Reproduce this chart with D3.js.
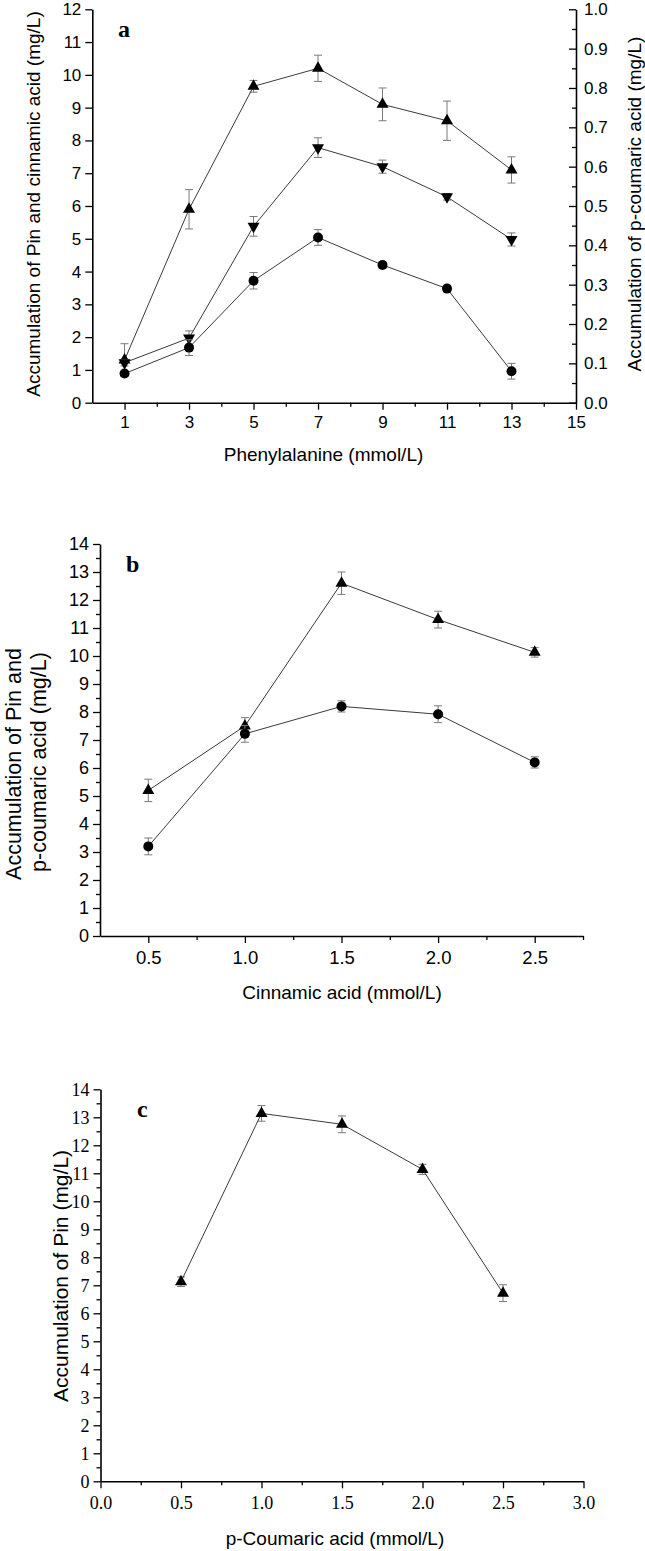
<!DOCTYPE html>
<html><head><meta charset="utf-8">
<script src="https://cdn.jsdelivr.net/npm/d3@7"></script>
<style>
html,body{margin:0;padding:0;background:#fff;}
svg{display:block;}
text{fill:#000;}
</style></head>
<body>
<script>
// ---------- Panel a data ----------
const pheConc = [1, 3, 5, 7, 9, 11, 13];
const aPin = [1.3, 5.9, 9.65, 10.2, 9.1, 8.6, 7.1];
const aPinErr = [0.5, 0.6, 0.18, 0.4, 0.5, 0.6, 0.4];
const aCinnamic = [1.22, 1.97, 5.38, 7.78, 7.2, 6.28, 4.98];
const aCinnamicErr = [0.1, 0.22, 0.3, 0.3, 0.2, 0.1, 0.2];
const aCoumaric = [0.074, 0.14, 0.31, 0.42, 0.35, 0.29, 0.08];   // right axis
const aCoumaricErr = [0.005, 0.02, 0.021, 0.02, 0.008, 0.008, 0.02];
const aXTicks = [1, 3, 5, 7, 9, 11, 13, 15];
const aYTicks = [0,1,2,3,4,5,6,7,8,9,10,11,12];
const aY2Ticks = [0,0.1,0.2,0.3,0.4,0.5,0.6,0.7,0.8,0.9,1.0];

// ---------- Panel b data ----------
const cinnConc = [0.5, 1.0, 1.5, 2.0, 2.5];
const bPin = [5.2, 7.5, 12.6, 11.3, 10.13];
const bPinErr = [0.4, 0.3, 0.4, 0.3, 0.17];
const bCoumaric = [3.2, 7.22, 8.2, 7.92, 6.2];
const bCoumaricErr = [0.3, 0.3, 0.2, 0.3, 0.2];
const bXTicks = [0.5, 1.0, 1.5, 2.0, 2.5];
const bYTicks = [0,1,2,3,4,5,6,7,8,9,10,11,12,13,14];

// ---------- Panel c data ----------
const coumConc = [0.5, 1.0, 1.5, 2.0, 2.5];
const cPin = [7.13, 13.14, 12.75, 11.14, 6.72];
const cPinErr = [0.17, 0.28, 0.3, 0.18, 0.3];
const cXTicks = [0.0, 0.5, 1.0, 1.5, 2.0, 2.5, 3.0];
const cYTicks = [0,1,2,3,4,5,6,7,8,9,10,11,12,13,14];

const W = 645, H = 1551;
const SANS = "'Liberation Sans', Arial, sans-serif";
const SERIF = "'Liberation Serif', 'Times New Roman', serif";
const LINE = "#3a3a3a", ERR = "#7a7a7a";

const svg = d3.select("body").append("svg").attr("width", W).attr("height", H);

function styleAxis(g, font, size) {
  g.select(".domain").attr("stroke", "#000").attr("stroke-width", 1.6);
  g.selectAll(".tick line").attr("stroke", "#000").attr("stroke-width", 1.3);
  g.selectAll(".tick text").attr("font-family", font).attr("font-size", size).attr("fill", "#000");
}
function minorStyle(a) {
  a.select(".domain").remove();
  a.selectAll("line").attr("stroke", "#000").attr("stroke-width", 1.3);
}

function triPath(up, s, h) {
  const p = d3.path();
  const sg = up ? 1 : -1;
  p.moveTo(0, -sg * h * 2 / 3);
  p.lineTo(s, sg * h / 3);
  p.lineTo(-s, sg * h / 3);
  p.closePath();
  return p.toString();
}

function series(g, xs, ys, errs, x, y, shape) {
  const pts = xs.map((v, i) => ({x: v, y: ys[i], e: errs[i]}));
  const eg = g.append("g");
  pts.forEach(d => {
    const cx = x(d.x), top = y(d.y + d.e), bot = y(d.y - d.e);
    eg.append("line").attr("x1", cx).attr("x2", cx).attr("y1", top).attr("y2", bot)
      .attr("stroke", ERR).attr("stroke-width", 1);
    [top, bot].forEach(yy => eg.append("line").attr("x1", cx - 4).attr("x2", cx + 4)
      .attr("y1", yy).attr("y2", yy).attr("stroke", ERR).attr("stroke-width", 1));
  });
  g.append("path").datum(pts)
    .attr("d", d3.line().x(d => x(d.x)).y(d => y(d.y)))
    .attr("fill", "none").attr("stroke", LINE).attr("stroke-width", 1);
  const mg = g.append("g");
  pts.forEach(d => {
    if (shape === "circle") {
      mg.append("circle").attr("cx", x(d.x)).attr("cy", y(d.y)).attr("r", 5).attr("fill", "#000");
    } else {
      mg.append("path").attr("d", triPath(shape === "up", 6, 10.5))
        .attr("transform", `translate(${x(d.x)},${y(d.y)})`).attr("fill", "#000");
    }
  });
}

function rotLabel(txt, cx, cy, size, font) {
  svg.append("text").attr("transform", `translate(${cx},${cy}) rotate(-90)`)
    .attr("text-anchor", "middle").attr("font-family", font || SANS).attr("font-size", size).text(txt);
}

// ================= Panel a =================
{
  const x = d3.scaleLinear().domain([0, 15]).range([92.3, 576]);
  const y = d3.scaleLinear().domain([0, 12]).range([402.7, 9.3]);
  const y2 = d3.scaleLinear().domain([0, 1]).range([402.7, 9.3]);
  const g = svg.append("g");

  g.append("g").attr("transform", `translate(0,${y(0)})`)
    .call(d3.axisBottom(x).tickValues([2,4,6,8,10,12,14]).tickSize(4).tickFormat(""))
    .call(minorStyle);
  g.append("g").attr("transform", `translate(${x(15)},0)`)
    .call(d3.axisLeft(y2).tickValues(d3.range(0.05, 1, 0.1)).tickSize(4).tickFormat(""))
    .call(minorStyle);

  const xa = g.append("g").attr("transform", `translate(0,${y(0)})`)
    .call(d3.axisBottom(x).tickValues(aXTicks).tickSize(7).tickSizeOuter(0).tickPadding(6).tickFormat(d3.format("d")));
  styleAxis(xa, SANS, 17);
  const ya = g.append("g").attr("transform", `translate(${x(0)},0)`)
    .call(d3.axisLeft(y).tickValues(aYTicks).tickSize(7).tickSizeOuter(0).tickPadding(4).tickFormat(d3.format("d")));
  styleAxis(ya, SANS, 17);
  const y2a = g.append("g").attr("transform", `translate(${x(15)},0)`)
    .call(d3.axisLeft(y2).tickValues(aY2Ticks).tickSize(7).tickSizeOuter(0).tickFormat(d3.format(".1f")));
  styleAxis(y2a, SANS, 17);
  y2a.selectAll(".tick text").attr("text-anchor", "start").attr("x", 8);

  series(g, pheConc, aPin, aPinErr, x, y, "up");
  series(g, pheConc, aCinnamic, aCinnamicErr, x, y, "down");
  series(g, pheConc, aCoumaric, aCoumaricErr, x, y2, "circle");

  svg.append("text").attr("x", 118).attr("y", 37).attr("font-family", SERIF)
    .attr("font-weight", "bold").attr("font-size", 24).text("a");
  svg.append("text").attr("x", 323.5).attr("y", 461).attr("text-anchor", "middle")
    .attr("font-family", SANS).attr("font-size", 19).text("Phenylalanine (mmol/L)");
  rotLabel("Accumulation of Pin and cinnamic acid (mg/L)", 40, 204, 19);
  rotLabel("Accumulation of p-coumaric acid (mg/L)", 641, 204, 19);
}

// ================= Panel b =================
{
  const x = d3.scaleLinear().domain([0.25, 2.75]).range([100, 583]);
  const y = d3.scaleLinear().domain([0, 14]).range([936, 544]);
  const g = svg.append("g");

  g.append("g").attr("transform", `translate(0,${y(0)})`)
    .call(d3.axisBottom(x).tickValues([0.75,1.25,1.75,2.25,2.75]).tickSize(4).tickFormat(""))
    .call(minorStyle);
  g.append("g").attr("transform", `translate(${x(0.25)},0)`)
    .call(d3.axisLeft(y).tickValues(d3.range(0.5, 14, 1)).tickSize(4).tickFormat(""))
    .call(minorStyle);

  const xa = g.append("g").attr("transform", `translate(0,${y(0)})`)
    .call(d3.axisBottom(x).tickValues(bXTicks).tickSize(7).tickSizeOuter(0).tickPadding(8).tickFormat(d3.format(".1f")));
  styleAxis(xa, SANS, 18.5);
  const ya = g.append("g").attr("transform", `translate(${x(0.25)},0)`)
    .call(d3.axisLeft(y).tickValues(bYTicks).tickSize(7).tickSizeOuter(0).tickPadding(4).tickFormat(d3.format("d")));
  styleAxis(ya, SANS, 18);

  series(g, cinnConc, bPin, bPinErr, x, y, "up");
  series(g, cinnConc, bCoumaric, bCoumaricErr, x, y, "circle");

  svg.append("text").attr("x", 126).attr("y", 572).attr("font-family", SERIF)
    .attr("font-weight", "bold").attr("font-size", 24).text("b");
  svg.append("text").attr("x", 342).attr("y", 999).attr("text-anchor", "middle")
    .attr("font-family", SANS).attr("font-size", 19).text("Cinnamic acid (mmol/L)");
  rotLabel("Accumulation of Pin and", 21, 764, 21.5);
  rotLabel("p-coumaric acid (mg/L)", 46, 762, 21.5);
}

// ================= Panel c =================
{
  const x = d3.scaleLinear().domain([0, 3]).range([100.5, 583.5]);
  const y = d3.scaleLinear().domain([0, 14]).range([1481.3, 1089.3]);
  const g = svg.append("g");

  g.append("g").attr("transform", `translate(0,${y(0)})`)
    .call(d3.axisBottom(x).tickValues([0.25,0.75,1.25,1.75,2.25,2.75]).tickSize(4).tickFormat(""))
    .call(minorStyle);
  g.append("g").attr("transform", `translate(${x(0)},0)`)
    .call(d3.axisLeft(y).tickValues(d3.range(0.5, 14, 1)).tickSize(4).tickFormat(""))
    .call(minorStyle);

  const xa = g.append("g").attr("transform", `translate(0,${y(0)})`)
    .call(d3.axisBottom(x).tickValues(cXTicks).tickSize(7).tickSizeOuter(0).tickPadding(8).tickFormat(d3.format(".1f")));
  styleAxis(xa, SERIF, 18);
  const ya = g.append("g").attr("transform", `translate(${x(0)},0)`)
    .call(d3.axisLeft(y).tickValues(cYTicks).tickSize(7).tickSizeOuter(0).tickPadding(4).tickFormat(d3.format("d")));
  styleAxis(ya, SERIF, 18);

  series(g, coumConc, cPin, cPinErr, x, y, "up");

  svg.append("text").attr("x", 137).attr("y", 1117).attr("font-family", SERIF)
    .attr("font-weight", "bold").attr("font-size", 24).text("c");
  svg.append("text").attr("x", 335).attr("y", 1545).attr("text-anchor", "middle")
    .attr("font-family", SANS).attr("font-size", 19).text("p-Coumaric acid (mmol/L)");
  rotLabel("Accumulation of Pin (mg/L)", 68, 1276, 21);
}
</script>
</body></html>
